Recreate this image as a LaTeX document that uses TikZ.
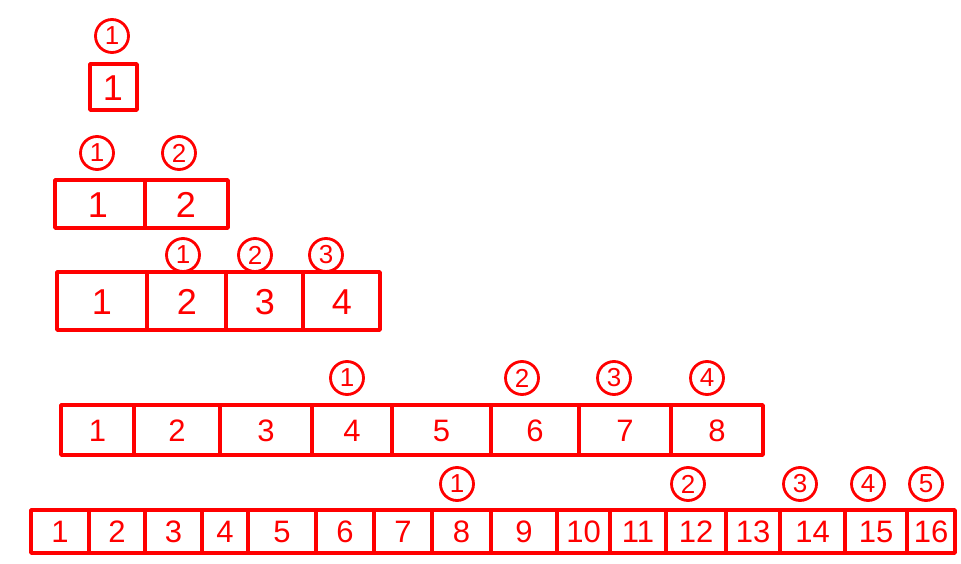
\documentclass[tikz,border=0pt]{standalone}
\usepackage{fontspec}
\setmainfont{Liberation Sans}

\begin{document}
\begin{tikzpicture}[x=1pt,y=-1pt, red, line width=3.4pt, line cap=round, line join=round,
    num/.style={font=\fontsize{36}{36}\selectfont},
    smallnum/.style={font=\fontsize{31}{31}\selectfont},
    tag/.style={draw, circle, line width=2.8pt, inner sep=0pt, minimum size=33pt,
      font=\fontsize{26}{26}\selectfont}]
  \useasboundingbox (0,0) rectangle (961,564);

  % one cell
  \draw (90,64) rectangle (137,110);
  \node[num] (a1) at (113,88) {1};
  \node[tag] (ta1) at (112,36) {1};

  % two cells
  \draw (55,180) rectangle (228,228);
  \draw (145,180) -- (145,228);
  \foreach \x [count=\i] in {98,186}
    \node[num] (b\i) at (\x,205) {\i};
  \foreach \x [count=\i] in {97,179}
    \node[tag] (tb\i) at (\x,153) {\i};

  % four cells
  \draw (57,272) rectangle (380,330);
  \foreach \x in {147,226,303}
    \draw (\x,272) -- (\x,330);
  \foreach \x [count=\i] in {102,187,265,342}
    \node[num] (c\i) at (\x,302) {\i};
  \foreach \x [count=\i] in {183,255,326}
    \node[tag] (tc\i) at (\x,255) {\i};

  % eight cells
  \draw (61,405) rectangle (763,455);
  \foreach \x in {134,220,312,392,491,579,671}
    \draw (\x,405) -- (\x,455);
  \foreach \a/\b [count=\i] in {61/134,134/220,220/312,312/392,392/491,491/579,579/671,671/763}
    \node[smallnum] (d\i) at ({(\a+\b)/2},431) {\i};
  \foreach \x [count=\i] in {347,522,614,707}
    \node[tag] (td\i) at (\x,378) {\i};

  % sixteen cells
  \draw (31,510) rectangle (955,553);
  \foreach \x in {89,145,202,248,316,374,432,491,557,610,666,726,780,845,907}
    \draw (\x,510) -- (\x,553);
  \foreach \a/\b [count=\i] in {31/89,89/145,145/202,202/248,248/316,316/374,374/432,432/491,
      491/557,557/610,610/666,666/726,726/780,780/845,845/907,907/955}
    \node[smallnum] (e\i) at ({(\a+\b)/2},532) {\i};
  \foreach \x [count=\i] in {457,688,800,868,926}
    \node[tag] (te\i) at (\x,484) {\i};
\end{tikzpicture}
\end{document}
